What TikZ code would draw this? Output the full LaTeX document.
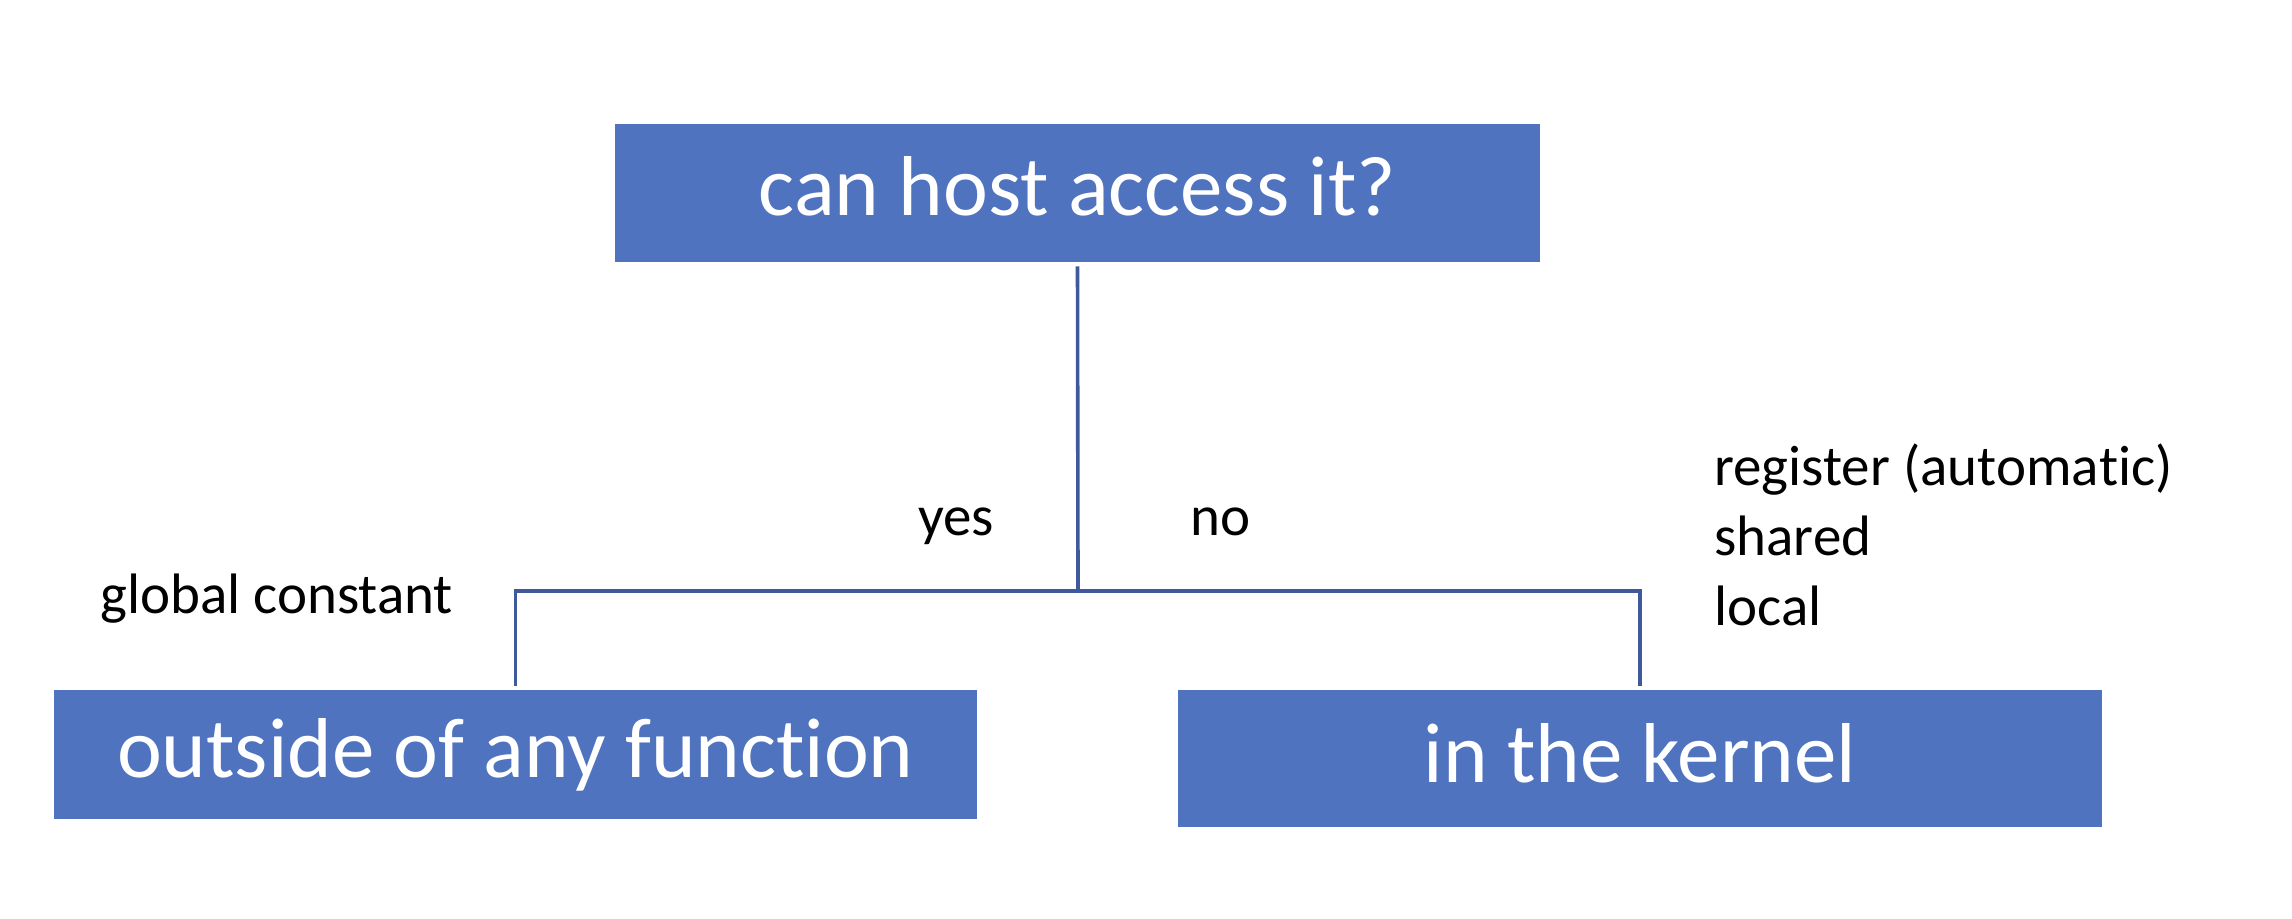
\documentclass[tikz,border=0pt]{standalone}
\usepackage{fontspec}
\setmainfont[Ligatures={NoCommon,NoContextual,NoRequired},RawFeature={-liga;-clig;-calt}]{Carlito}
\definecolor{boxblue}{RGB}{79,115,190}
\definecolor{lineblue}{RGB}{62,90,155}
\begin{document}
\begin{tikzpicture}[x=0.5pt,y=-0.5pt,
  bigbox/.style={draw=none,fill=boxblue,text=white,inner sep=0pt,
    font=\fontsize{42.5pt}{48pt}\selectfont},
  lbl/.style={anchor=base west,inner sep=0pt,text=black,
    font=\fontsize{28.5pt}{32pt}\selectfont},
  conn/.style={draw=lineblue,line width=1.8pt,shorten <=2pt,shorten >=2pt}]
\useasboundingbox[fill=white] (0,0) rectangle (2292,918);
\node[bigbox,minimum width=462.5pt,minimum height=69pt,text height=22pt,text depth=0pt] (top) at (1077.5,193) {can host access it?};
\node[bigbox,minimum width=461.5pt,minimum height=64.5pt,text height=22.5pt,text depth=0pt] (left) at (515.5,754.5) {outside of any func\kern0pt tion};
\node[bigbox,minimum width=462pt,minimum height=68.5pt,text height=23.5pt,text depth=0pt] (right) at (1640,758.5) {in the kernel};
\coordinate (j) at (1078,591);
\draw[conn,shorten >=0pt] (top.south) -- (j);
\draw[conn] (left.north) -- (left.north |- j) -- (right.north |- j) -- (right.north);
\node[lbl] (yes) at (918,535) {yes};
\node[lbl] (no) at (1190,535) {no};
\node[lbl] (glob) at (100,613) {global constant};
\node[lbl] (reg) at (1714,485) {register (automa\kern0pt tic)};
\node[lbl] (shared) at (1714,555) {shared};
\node[lbl] (local) at (1714,625) {local};
\end{tikzpicture}
\end{document}
